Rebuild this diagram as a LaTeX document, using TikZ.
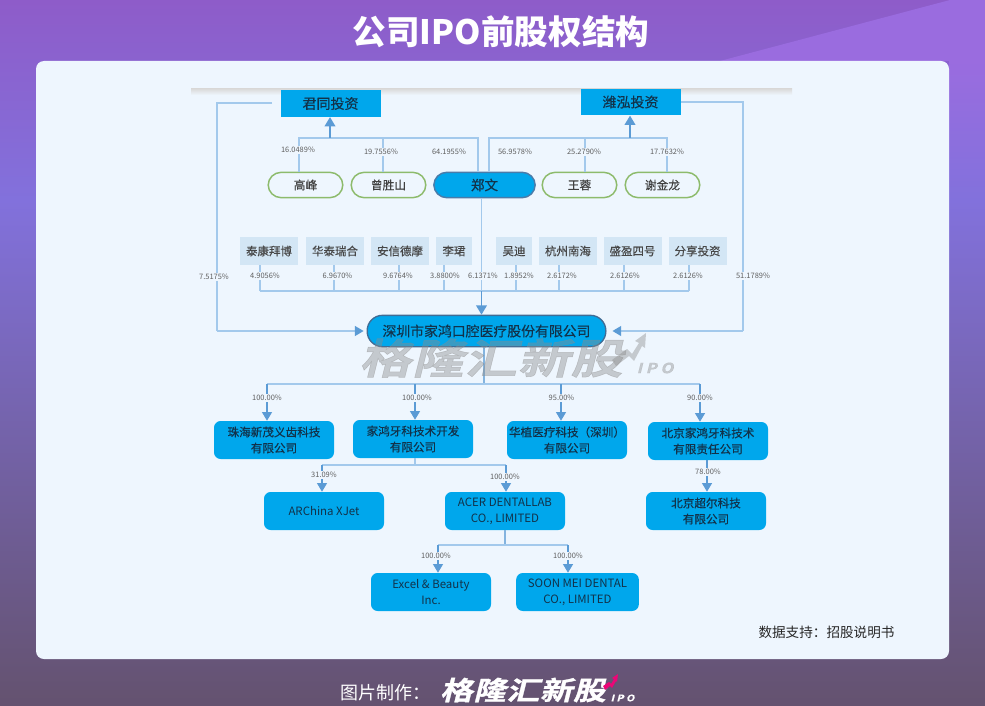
\documentclass[tikz,border=0pt]{standalone}
\usepackage{fontspec}
\usetikzlibrary{arrows.meta,calc}
\setmainfont{Noto Sans CJK SC}
\newfontfamily\medf[FakeBold=0.35]{Noto Sans CJK SC}
\newfontfamily\slantfont[FakeSlant=0.25,FakeStretch=1.26,FakeBold=1.2,LetterSpace=2]{Noto Sans CJK SC Bold}
\newfontfamily\slantsmall[FakeSlant=0.25,FakeStretch=1.2,FakeBold=0.6,LetterSpace=25]{Noto Sans CJK SC Bold}
\definecolor{panel}{HTML}{EEF6FE}
\definecolor{cyanbox}{HTML}{00A7EC}
\definecolor{linec}{HTML}{A3C9EC}
\definecolor{arrowc}{HTML}{5B9BD5}
\definecolor{txt}{HTML}{12324A}
\definecolor{pct}{HTML}{5E5E5E}
\definecolor{softbox}{HTML}{D3E6F5}
\definecolor{ovalg}{HTML}{8DBB6C}
\definecolor{bgA}{HTML}{8E5CC9}
\definecolor{bgB}{HTML}{8271DC}
\definecolor{bgC}{HTML}{64526F}
\definecolor{bgL}{HTML}{9A6CDF}
\tikzset{
 x=0.75pt,y=-0.75pt,
 holder/.style={draw=none,fill=cyanbox,minimum width=75pt,minimum height=20pt,inner sep=0pt,text=txt,font=\fontsize{10.5}{12}\selectfont\medf},
 oval/.style={draw=ovalg,line width=1.1pt,fill=panel,rounded corners=9.7pt,minimum width=56pt,minimum height=19pt,inner sep=0pt,text=black!75,font=\fontsize{8.8}{11}\selectfont\medf},
 softb/.style={fill=softbox,minimum height=21pt,inner sep=0pt,text=black!72,font=\fontsize{8.6}{11}\selectfont\medf},
 subbox/.style={draw=none,fill=cyanbox,rounded corners=5pt,minimum width=90pt,minimum height=28.5pt,inner sep=0pt,align=center,text=txt,font=\fontsize{8.7}{12}\selectfont\medf},
 latinbox/.style={subbox,font=\fontsize{8.6}{12}\selectfont},
 pctl/.style={fill=panel,inner sep=0.6pt,text=pct,font=\fontsize{5.6}{7}\selectfont},
 ln/.style={draw=linec,line width=0.85pt},
 ar/.style={draw=arrowc,line width=0.85pt,-{Triangle[length=6.5pt,width=7.5pt]}},
 arl/.style={draw=linec,line width=0.85pt,-{Triangle[length=6.5pt,width=7.5pt,color=arrowc]}},
 arb/.style={draw=arrowc,line width=1.3pt,-{Triangle[length=7pt,width=8pt]}},
 wmark/.style={text=black!45,opacity=0.42}
}
\begin{document}
\begin{tikzpicture}
\useasboundingbox (0,0) rectangle (985,706);
\shade[top color=bgA,bottom color=bgB] (0,0) rectangle (985,200.5);
\shade[top color=bgB,bottom color=bgC] (0,200) rectangle (985,706);
\fill[bgL] (720,61) -- (950,0) -- (985,0) -- (985,61) -- cycle;
\shade[top color=bgL,bottom color=bgB] (949,61) rectangle (985,200.5);
% panel
\fill[panel,rounded corners=6pt] (36,61) rectangle (949,659);
\shade[top color=black!14,bottom color=panel,draw=none] (191,89) rectangle (792,95);
% title
\node[text=white,font=\fontsize{25.2}{28}\selectfont\bfseries] (title) at (501,32) {公司IPO前股权结构};
% top holders
\node[holder] (jt) at (330.5,103.5) {君同投资};
\node[holder] (wh) at (630.5,102) {潍泓投资};
% persons
\node[oval] (gf) at (305.5,185) {高峰};
\node[oval] (zs) at (388.5,185) {曾胜山};
\node[oval,minimum width=76pt,fill=cyanbox,draw=arrowc!80!black,text=txt,font=\fontsize{10.2}{12}\selectfont\medf] (zw) at (484.5,185) {郑文};
\node[oval] (wr) at (579.5,185) {王蓉};
\node[oval] (xj) at (662.5,185) {谢金龙};
% soft boxes
\node[softb,minimum width=43.5pt] (s1) at (269,251) {泰康拜博};
\node[softb,minimum width=43.5pt] (s2) at (335,251) {华泰瑞合};
\node[softb,minimum width=43.5pt] (s3) at (400,251) {安信德摩};
\node[softb,minimum width=27pt] (s4) at (454,251) {李珺};
\node[softb,minimum width=27pt] (s5) at (514,251) {吴迪};
\node[softb,minimum width=43.5pt] (s6) at (568,251) {杭州南海};
\node[softb,minimum width=43.5pt] (s7) at (632.5,251) {盛盈四号};
\node[softb,minimum width=43.5pt] (s8) at (697.5,251) {分享投资};
% main
\node[draw=arrowc!70!black,line width=1pt,fill=cyanbox,rounded corners=11.5pt,minimum width=179pt,minimum height=23.5pt,inner sep=0pt,text=txt,font=\fontsize{10.4}{12}\selectfont\medf] (main) at (486.5,331) {深圳市家鸿口腔医疗股份有限公司};
% subsidiaries
\node[subbox] (a1) at (274,440) {珠海新茂义齿科技\\有限公司};
\node[subbox] (a2) at (413,439) {家鸿牙科技术开发\\有限公司};
\node[subbox] (a3) at (567,440) {华植医疗科技（深圳）\\有限公司};
\node[subbox] (a4) at (708,441) {北京家鸿牙科技术\\有限责任公司};
\node[latinbox] (b1) at (324,511) {ARChina XJet};
\node[latinbox] (b2) at (505,511) {ACER DENTALLAB\\CO., LIMITED};
\node[subbox] (b3) at (706,511) {北京超尔科技\\有限公司};
\node[latinbox] (c1) at (431,592) {Excel \& Beauty\\Inc.};
\node[latinbox,minimum width=92pt] (c2) at (577.5,592) {SOON MEI DENTAL\\CO., LIMITED};
% left top tree
\coordinate (jl) at (299,138);\coordinate (jm) at (383,138);\coordinate (jr) at (478,138);\coordinate (ja) at (330,138);
\draw[ln] (jl|-gf.north) -- (jl) -- (jr) -- (jr|-zw.north);
\draw[ln] (jm) -- (jm|-zs.north);
\draw[arb] (ja) -- (ja|-jt.south);
% right top tree
\coordinate (wl) at (489,138);\coordinate (wm) at (585,138);\coordinate (wq) at (667,138);\coordinate (wa) at (630,138);
\draw[ln] (wl|-zw.north) -- (wl) -- (wq) -- (wq|-xj.north);
\draw[ln] (wm) -- (wm|-wr.north);
\draw[arb] (wa) -- (wa|-wh.south);
% side connectors
\coordinate (lc) at (217,103);\coordinate (lend) at (272,103);
\draw[ln] (lend) -- (lc) -- (lc|-main.west);
\draw[arl,shorten >=2.2pt] (lc|-main.west) -- (main.west);
\coordinate (rc) at (743,102);
\draw[ln] (wh.east) -- (rc) -- (rc|-main.east);
\draw[arl,shorten >=4.5pt] (rc|-main.east) -- (main.east);
% investors bus
\coordinate (bl) at (260,291);\coordinate (br) at (689,291);
\draw[ln] (bl) -- (br);
\foreach \n/\x in {s1/260,s2/334,s3/399,s4/444,s5/516,s6/559,s7/624,s8/689}{
  \coordinate (t) at (\x,291);
  \draw[ln] (t) -- (t|-\n.south);
}
\coordinate (zc) at (481.5,291);
\draw[ln] (zc|-zw.south) -- (zc);
\draw[arb] (zc) -- (zc|-main.north);
% subsidiary bus
\coordinate (m1) at (484,384);\coordinate (v1) at (267,384);\coordinate (v2) at (415,384);\coordinate (v3) at (561,384);\coordinate (v4) at (700,384);
\draw[ln,draw=arrowc!75] (m1|-main.south) -- (m1);
\draw[ln] (v1) -- (v4);
\draw[ar] (v1) -- (v1|-a1.north);
\draw[ar] (v2) -- (v2|-a2.north);
\draw[ar] (v3) -- (v3|-a3.north);
\draw[ar] (v4) -- (v4|-a4.north);
% second level
\coordinate (h0) at (415,465);\coordinate (h1) at (322,465);\coordinate (h2) at (506,465);
\draw[ln] (h0|-a2.south) -- (h0);
\draw[ln] (h1) -- (h2);
\draw[ar] (h1) -- (h1|-b1.north);
\draw[ar] (h2) -- (h2|-b2.north);
\coordinate (p1) at (707,470);
\draw[ar] (p1|-a4.south) -- (p1|-b3.north);
% third level
\coordinate (k0) at (505,545);\coordinate (k1) at (438,545);\coordinate (k2) at (568,545);
\draw[ln,draw=arrowc!75] (k0|-b2.south) -- (k0);
\draw[ln] (k1) -- (k2);
\draw[ar] (k1) -- (k1|-c1.north);
\draw[ar] (k2) -- (k2|-c2.north);
% labels
\foreach \t/\x/\y/\m in {16.0489/298/150/l1,19.7556/381/152/l2,64.1955/449/152/l3,56.9578/515/152/l4,25.2790/584/152/l5,17.7632/667/152/l6,7.5175/214/277/l7,4.9056/265/276/l8,6.9670/337.5/276/l9,9.6764/398/276/l10,3.8800/445/276/l11,6.1371/483/276/l12,1.8952/519/276/l13,2.6172/562/276/l14,2.6126/625/276/l15,2.6126/688/276/l16,51.1789/753/276/l17,100.00/267/398/l18,100.00/417/398/l19,95.00/561.5/398/l20,90.00/700/398/l21,31.09/324/475/l22,100.00/505/477/l23,78.00/708/472/l24,100.00/436/556/l25,100.00/568/556/l26}{
  \node[pctl] (\m) at (\x,\y) {\t\%};
}
% source
\node[text=black!85,font=\fontsize{10.2}{12}\selectfont] (src) at (826.5,632) {数据支持：招股说明书};
% watermark
\node[wmark,font=\fontsize{31}{34}\selectfont\slantfont] (wm) at (491,358) {格隆汇新股};
\node[wmark,font=\fontsize{10.5}{12}\selectfont\slantsmall] (wi) at (655,368) {IPO};
\fill[wmark,fill=black!45] (612,360) -- (627,349) -- (632,354) -- (639,343) -- (635,341) -- (646,333) -- (645,348) -- (642,346) -- (634,361) -- (629,356) -- (616,366) -- cycle;
% footer
\node[text=white,font=\fontsize{13.5}{16}\selectfont] (ft) at (385,693) {图片制作：};
\node[text=white,font=\fontsize{19.5}{22}\selectfont\slantfont] (lg) at (523,690) {格隆汇新股};
\node[text=white,font=\fontsize{6.8}{8}\selectfont\slantsmall] (li) at (622.5,698) {IPO};
\fill[magenta!80!red] (603,686) -- (609,682) -- (611,684) -- (614,679) -- (612,678) -- (618,674) -- (617,682) -- (616,681) -- (612,688) -- (610,686) -- (605,690) -- cycle;
\end{tikzpicture}
\end{document}
